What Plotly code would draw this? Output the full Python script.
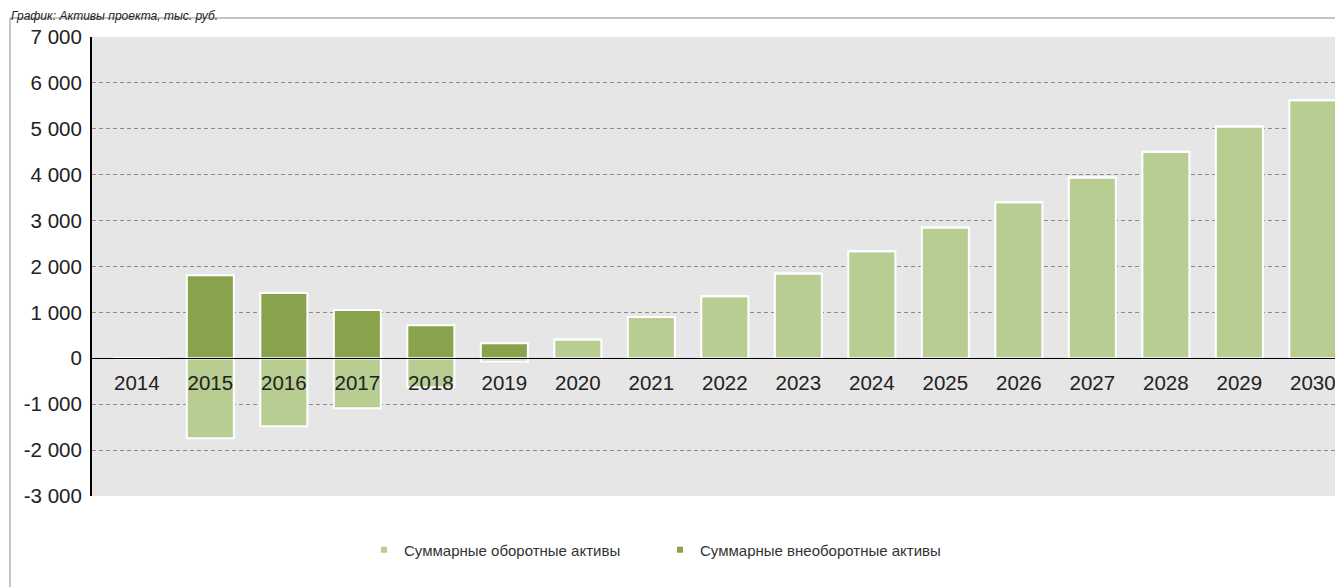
import plotly.graph_objects as go

years = [2014, 2015, 2016, 2017, 2018, 2019, 2020, 2021, 2022,
         2023, 2024, 2025, 2026, 2027, 2028, 2029, 2030]
current_assets = [0, -1740, -1480, -1090, -630, -70, 410, 900, 1350,
                  1850, 2330, 2850, 3400, 3940, 4500, 5050, 5620]
noncurrent_assets = [0, 1810, 1420, 1050, 720, 330, 0, 0, 0,
                     0, 0, 0, 0, 0, 0, 0, 0]
y_ticks = [-3000, -2000, -1000, 0, 1000, 2000, 3000, 4000, 5000, 6000, 7000]
y_ticktext = ["-3 000", "-2 000", "-1 000", "0", "1 000", "2 000",
              "3 000", "4 000", "5 000", "6 000", "7 000"]
title_text = "График: Активы проекта, тыс. руб."
name_current = "Суммарные оборотные активы"
name_noncurrent = "Суммарные внеоборотные активы"

FONT = "Arial, Liberation Sans, sans-serif"
LIGHT = "#b7cd92"
DARK = "#88a34c"

fig = go.Figure()
fig.add_trace(go.Bar(
    x=years, y=current_assets, name=name_current, showlegend=False,
    marker=dict(color=LIGHT, line=dict(color="white", width=2)),
    width=0.64,
))
fig.add_trace(go.Bar(
    x=years, y=noncurrent_assets, name=name_noncurrent, showlegend=False,
    marker=dict(color=DARK, line=dict(color="white", width=2)),
    width=0.64,
))
# legend entries (small square markers as in the reference)
fig.add_trace(go.Scatter(
    x=[None], y=[None], mode="markers", name=name_current,
    marker=dict(symbol="square", size=6, color=LIGHT),
))
fig.add_trace(go.Scatter(
    x=[None], y=[None], mode="markers", name=name_noncurrent,
    marker=dict(symbol="square", size=6, color=DARK),
))

OFF = 8  # page body margin
W, H = 1343 - OFF, 587 - OFF
L, R, T, B = 92 - OFF, 0, 37 - OFF, 91
pw = W - L - R
ph = H - T - B

def px_x(page_x):
    return (page_x - OFF - L) / pw

def px_y(page_y):
    return (H - B - (page_y - OFF)) / ph

ymin, ymax = -3000, 7000
zero_pos = (0 - ymin) / (ymax - ymin)

fig.update_layout(
    width=W, height=H,
    margin=dict(l=L, r=R, t=T, b=B, pad=0),
    barmode="relative",
    paper_bgcolor="white",
    plot_bgcolor="#e6e6e6",
    font=dict(family=FONT, color="#222222"),
    showlegend=True,
    legend=dict(
        orientation="h",
        xref="container", yref="container",
        x=(364 - OFF) / W, xanchor="left",
        y=1 - (550 - OFF) / H, yanchor="middle",
        font=dict(size=15, color="#333333"),
        itemwidth=30,
        entrywidth=251,
        traceorder="normal",
        bgcolor="rgba(0,0,0,0)",
    ),
    xaxis=dict(
        range=[years[0] - 0.61, years[0] + 16.41],
        tickmode="array", tickvals=years, ticktext=[str(y) for y in years],
        anchor="free", position=zero_pos,
        showline=True, linecolor="black", linewidth=1,
        showgrid=False, zeroline=False,
        ticks="outside", ticklen=6, tickcolor="rgba(0,0,0,0)",
        tickfont=dict(size=20.5, color="#222222", family=FONT),
        layer="above traces",
    ),
    yaxis=dict(
        range=[ymin, ymax],
        tickmode="array", tickvals=y_ticks, ticktext=y_ticktext,
        showgrid=True, gridcolor="#8c8c8c", griddash="4px,3px", gridwidth=1,
        zeroline=False,
        showline=True, linecolor="black", linewidth=2,
        tickfont=dict(size=20.5, color="#222222", family=FONT),
        ticks="", ticklabelstandoff=4,
    ),
)

# outer chart border (partially visible frame)
fig.add_shape(
    type="rect", xref="paper", yref="paper",
    x0=px_x(10), x1=px_x(1400), y0=px_y(640), y1=px_y(18),
    line=dict(color="#8a8a8a", width=1), fillcolor="rgba(0,0,0,0)",
    layer="below",
)

# title
fig.add_annotation(
    text=title_text, xref="paper", yref="paper",
    x=px_x(10), y=px_y(8), xanchor="left", yanchor="top",
    showarrow=False, borderpad=0,
    font=dict(size=12, family=FONT, color="#222222", style="italic"),
)

fig.write_html("out.html")
